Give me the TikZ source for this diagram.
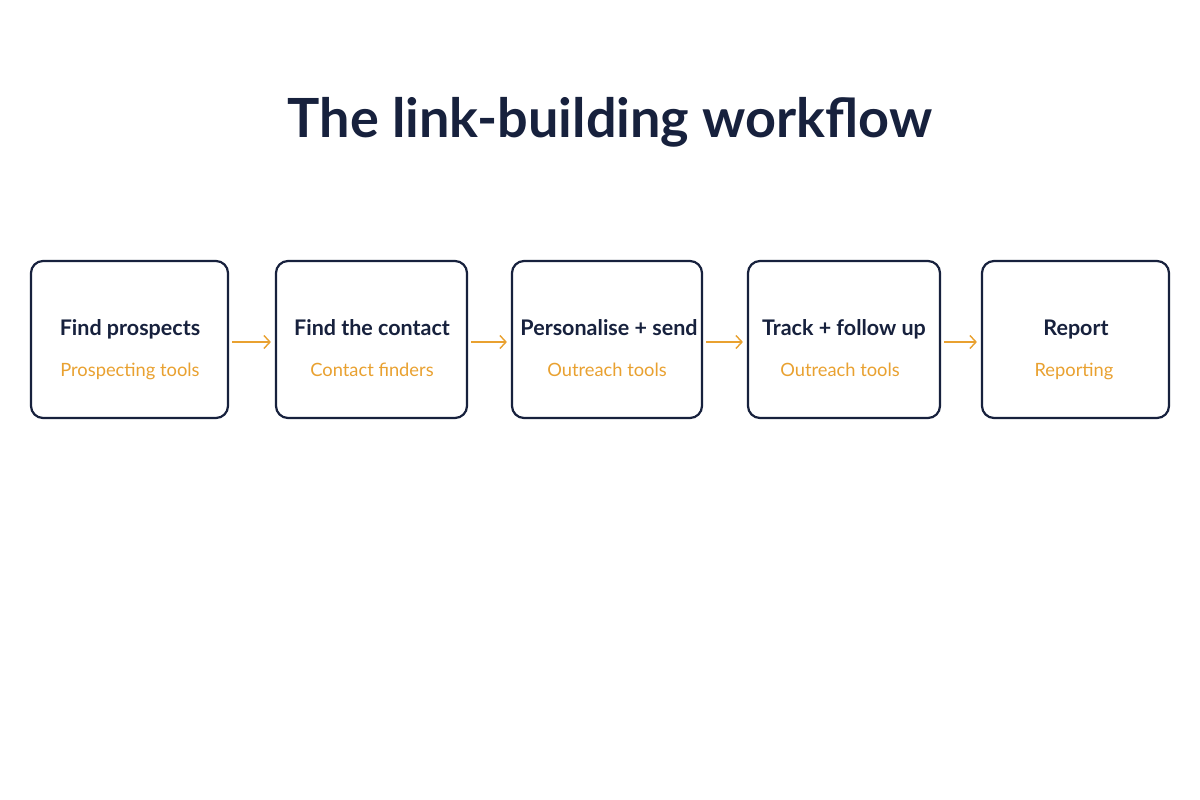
\documentclass[tikz,border=0pt]{standalone}
\usepackage{fontspec}
\setmainfont{Lato}
\usetikzlibrary{arrows.meta}
\definecolor{navy}{HTML}{17213D}
\definecolor{amber}{HTML}{E9A130}

\begin{document}
\begin{tikzpicture}[x=1pt,y=-1pt,
        stepbox/.style={draw=navy, line width=2.2pt, rounded corners=12pt, fill=white, inner sep=0pt, minimum height=157pt},
        maintext/.style={text=navy, font=\fontsize{21.5}{24}\selectfont\bfseries, inner sep=0pt, anchor=base},
        subtext/.style={text=amber, font=\fontsize{18.3}{20}\selectfont, inner sep=0pt, anchor=base},
        flow/.style={-{Straight Barb[length=6pt,width=13pt]}, draw=amber, line width=1.4pt},
        ]
                \useasboundingbox[fill=white] (0,0) rectangle (1200,800);
                \node[text=navy, font=\fontsize{54}{60}\selectfont\bfseries, anchor=base] at (610,137) (title) {The link-building workflow};

                \node[stepbox, minimum width=197pt] at (129.5,339.5) (b1) {};
                \node[stepbox, minimum width=191pt] at (371.5,339.5) (b2) {};
                \node[stepbox, minimum width=190pt] at (607,339.5) (b3) {};
                \node[stepbox, minimum width=192pt] at (844,339.5) (b4) {};
                \node[stepbox, minimum width=187pt] at (1075.5,339.5) (b5) {};

                \node[maintext] at (130,335) (m1) {Find prospects};
                \node[maintext] at (372,335) (m2) {Find the contact};
                \node[maintext] at (609,335) (m3) {Personalise + send};
                \node[maintext] at (844,335) (m4) {Track + follow up};
                \node[maintext] at (1076,335) (m5) {Report};

                \node[subtext] at (130,376) (s1) {Prospecting tools};
                \node[subtext] at (372,376) (s2) {Contact finders};
                \node[subtext] at (607,376) (s3) {Outreach tools};
                \node[subtext] at (840,376) (s4) {Outreach tools};
                \node[subtext] at (1074,376) (s5) {Reporting};

                \draw[flow] ([xshift=3pt,yshift=-2.5pt]b1.east) -- ([xshift=-4pt,yshift=-2.5pt]b2.west) ;
                \draw[flow] ([xshift=3pt,yshift=-2.5pt]b2.east) -- ([xshift=-4pt,yshift=-2.5pt]b3.west) ;
                \draw[flow] ([xshift=3pt,yshift=-2.5pt]b3.east) -- ([xshift=-4pt,yshift=-2.5pt]b4.west) ;
                \draw[flow] ([xshift=3pt,yshift=-2.5pt]b4.east) -- ([xshift=-4pt,yshift=-2.5pt]b5.west) ;

            \end{tikzpicture}
\end{document}
